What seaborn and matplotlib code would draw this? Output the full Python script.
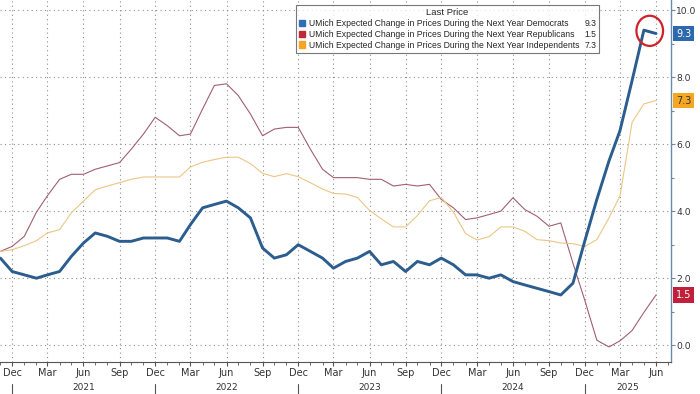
import matplotlib
matplotlib.use("Agg")
import matplotlib.pyplot as plt
import matplotlib.dates as mdates
import matplotlib.transforms as mtransforms
from matplotlib.patches import Ellipse, Rectangle
import pandas as pd
import seaborn as sns

months = pd.date_range("2020-11-01", "2025-06-01", freq="MS")

democrats = [2.6, 2.2, 2.1, 2.0, 2.1, 2.2, 2.65, 3.05, 3.35, 3.25, 3.1, 3.1, 3.2, 3.2,
             3.2, 3.1, 3.6, 4.1, 4.2, 4.3, 4.1, 3.8, 2.9, 2.6, 2.7, 3.0,
             2.8, 2.6, 2.3, 2.5, 2.6, 2.8, 2.4, 2.5, 2.2, 2.5, 2.4, 2.6,
             2.4, 2.1, 2.1, 2.0, 2.1, 1.9, 1.8, 1.7, 1.6, 1.5, 1.85, 3.1,
             4.35, 5.5, 6.4, 7.9, 9.4, 9.3]
republicans = [2.8, 2.95, 3.25, 3.97, 4.46, 4.95, 5.1, 5.1, 5.25, 5.35, 5.45, 5.85, 6.3, 6.8,
               6.55, 6.25, 6.3, 7.05, 7.75, 7.8, 7.45, 6.9, 6.25, 6.45, 6.5, 6.5,
               5.85, 5.25, 5.0, 5.0, 5.0, 4.95, 4.95, 4.75, 4.8, 4.75, 4.8, 4.35,
               4.1, 3.75, 3.8, 3.9, 4.0, 4.4, 4.05, 3.85, 3.55, 3.65, 2.45, 1.35,
               0.15, -0.05, 0.13, 0.44, 0.98, 1.5]
independents = [2.8, 2.85, 2.97, 3.12, 3.35, 3.45, 3.95, 4.3, 4.64, 4.75, 4.85, 4.95, 5.02, 5.02,
                5.02, 5.02, 5.32, 5.46, 5.54, 5.61, 5.61, 5.42, 5.13, 5.03, 5.12, 5.03,
                4.85, 4.66, 4.53, 4.51, 4.41, 4.02, 3.77, 3.53, 3.53, 3.87, 4.31, 4.41,
                3.97, 3.33, 3.14, 3.24, 3.53, 3.53, 3.4, 3.15, 3.12, 3.05, 3.03, 2.95,
                3.15, 3.8, 4.45, 6.65, 7.2, 7.3]

names = ["UMich Expected Change in Prices During the Next Year Democrats",
         "UMich Expected Change in Prices During the Next Year Republicans",
         "UMich Expected Change in Prices During the Next Year Independents"]
last_values = ["9.3", "1.5", "7.3"]
line_colors = ["#2c5d8f", "#a0606f", "#ecc685"]
legend_colors = ["#2f6fb5", "#c0283c", "#f5a623"]
tag_colors = ["#2e69ad", "#c21f3a", "#f5a623"]
tag_text = ["white", "white", "#333333"]
year_labels = ["2021", "2022", "2023", "2024", "2025"]
year_centers = ["2021-06-01", "2022-06-01", "2023-06-01", "2024-06-01", "2025-03-20"]

df = pd.DataFrame({"date": months, "Democrats": democrats,
                   "Republicans": republicans, "Independents": independents})

sns.set_style("white")
plt.rcParams["font.family"] = ["DejaVu Sans"]

fig = plt.figure(figsize=(7, 3.94), dpi=100)
ax = fig.add_axes([0.0, 0.0812, 0.959, 0.9188])

widths = [2.1, 0.8, 0.8]
orders = [3, 2, 2]
for col, c, w, z in zip(["Democrats", "Republicans", "Independents"], line_colors, widths, orders):
    sns.lineplot(data=df, x="date", y=col, color=c, linewidth=w, ax=ax, zorder=z)

ax.set_ylim(-0.5, 10.3)
ax.set_xlim(pd.Timestamp("2020-10-31"), pd.Timestamp("2025-07-10"))
ax.set_xlabel("")
ax.set_ylabel("")

# right-hand y axis
ax.yaxis.tick_right()
ax.set_yticks([0, 2, 4, 6, 8, 10])
ax.set_yticks([1, 3, 5, 7, 9], minor=True)
ax.set_yticklabels(["0.0", "2.0", "4.0", "6.0", "8.0", "10.0"])
ax.tick_params(axis="y", which="major", right=True, length=3, width=0.8, color="#6a8aa8",
               labelsize=6.6, labelcolor="#333333", pad=0.5)
ax.tick_params(axis="y", which="minor", right=True, length=2.5, width=0.8, color="#6a8aa8")

# x axis
ax.xaxis.set_major_locator(mdates.MonthLocator(bymonth=[3, 6, 9, 12]))
ax.xaxis.set_major_formatter(mdates.DateFormatter("%b"))
ax.xaxis.set_minor_locator(mdates.MonthLocator())
ax.tick_params(axis="x", which="major", bottom=True, length=3, width=0.8, color="#555555",
               labelsize=7, labelcolor="#333333", pad=1)
ax.tick_params(axis="x", which="minor", bottom=True, length=2, width=0.6, color="#555555")

ax.grid(True, which="major", linestyle=(0, (1, 3)), color="#8f8f8f", linewidth=0.8)

for s in ["left", "top"]:
    ax.spines[s].set_visible(False)
ax.spines["bottom"].set_color("#555555")
ax.spines["bottom"].set_linewidth(0.8)
ax.spines["right"].set_color("#6a8aa8")
ax.spines["right"].set_linewidth(1.0)

# year labels and separators below the month labels
trans = mtransforms.blended_transform_factory(ax.transData, ax.transAxes)
for lab, cen in zip(year_labels, year_centers):
    ax.text(pd.Timestamp(cen), -0.058, lab, transform=trans, ha="center", va="top",
            fontsize=6.5, color="#333333", clip_on=False)
for yr in range(2020, 2025):
    d = pd.Timestamp(f"{yr}-12-01")
    ax.plot([d, d], [-0.062, -0.09], transform=trans, color="#555555", lw=0.8, clip_on=False)

# last value tags on the right axis
for val, bg, fg in zip(last_values, tag_colors, tag_text):
    ax.annotate(val, xy=(1.0, float(val)), xycoords=("axes fraction", "data"),
                xytext=(3.5, 0), textcoords="offset points", ha="left", va="center",
                fontsize=7, color=fg, annotation_clip=False,
                bbox=dict(boxstyle="square,pad=0.3", fc=bg, ec="none"))

# red circle around the peak
peak = Ellipse((mdates.date2num(pd.Timestamp("2025-05-16")), 9.38), width=68, height=0.9,
               fill=False, edgecolor="#d0202a", linewidth=1.6, zorder=5, clip_on=False)
ax.add_patch(peak)

# legend with value column
handles = [Rectangle((0, 0), 1, 1, color=c) for c in legend_colors]
blanks = [Rectangle((0, 0), 1, 1, alpha=0) for _ in legend_colors]
leg = ax.legend(handles + blanks, names + last_values, ncol=2, title="Last Price",
                loc="upper right", bbox_to_anchor=(0.893, 0.985),
                prop={"family": "Liberation Sans", "size": 6.2},
                frameon=True, fancybox=False, handlelength=0.8,
                handleheight=0.8, handletextpad=0.4, columnspacing=-0.6,
                labelspacing=0.2, borderpad=0.35, borderaxespad=0)
leg.get_title().set_fontfamily("Liberation Sans")
leg.get_title().set_fontsize(6.8)
leg.get_frame().set_edgecolor("#555555")
leg.get_frame().set_linewidth(0.8)

fig.savefig("out.png", dpi=100)
